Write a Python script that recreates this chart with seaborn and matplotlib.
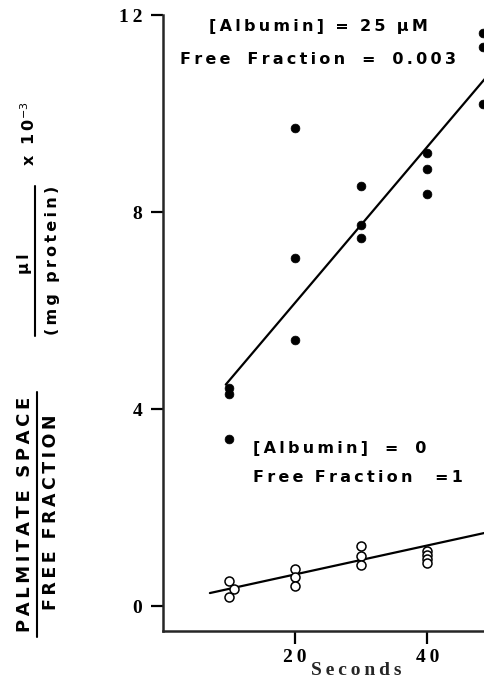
import numpy as np
import pandas as pd
import seaborn as sns
import matplotlib.pyplot as plt
from matplotlib.lines import Line2D

# albumin 25 uM (filled dots)
alb_x = [10, 10, 10, 20, 20, 20, 30, 30, 30, 40, 40, 40, 48.5, 48.5, 48.5]
alb_y = [4.30, 4.44, 3.39, 9.70, 7.06, 5.40, 8.54, 7.73, 7.48, 9.19, 8.88, 8.36, 11.64, 11.36, 10.20]
# no albumin (open circles)
free_x = [10, 10.8, 10, 20, 20, 20, 30, 30, 30, 40, 40, 40, 40]
free_y = [0.51, 0.36, 0.19, 0.75, 0.59, 0.41, 1.22, 1.03, 0.83, 1.12, 1.05, 0.97, 0.89]
# fitted lines (end points)
alb_fit_x = [9.5, 48.7]
alb_fit_y = [4.50, 10.70]
free_fit_x = [7.1, 48.7]
free_fit_y = [0.27, 1.49]

xticks = [20, 40]
yticks = [0, 4, 8, 12]

TS = "\u2009"  # thin space, used as letter spacing

def spaced(s, sep=TS):
    return sep.join(s)

def words(*ws, gap="  "):
    return gap.join(spaced(w) for w in ws)

sns.set_theme(style="ticks")
plt.rcParams['font.family'] = ['DejaVu Sans']

W, H = 484, 684
fig = plt.figure(figsize=(W / 100, H / 100), dpi=100)
ax = fig.add_axes([163 / W, 1 - 631 / H, 1 - 163 / W, (631 - 15) / H])

df_a = pd.DataFrame({"t": alb_x, "v": alb_y})
df_f = pd.DataFrame({"t": free_x, "v": free_y})
sns.scatterplot(data=df_a, x="t", y="v", ax=ax, color="black", s=40, edgecolor="black",
                linewidth=0.5, clip_on=False, zorder=3)
sns.scatterplot(data=df_f, x="t", y="v", ax=ax, facecolor="white", s=42, edgecolor="black",
                linewidth=1.1, clip_on=False, zorder=3)
sns.lineplot(x=alb_fit_x, y=alb_fit_y, ax=ax, color="black", lw=1.6)
sns.lineplot(x=free_fit_x, y=free_fit_y, ax=ax, color="black", lw=1.6)

ax.set_xlim(0, 48.6)
ax.set_ylim(-0.5, 12)
ax.spines['top'].set_visible(False)
ax.spines['right'].set_visible(False)
for sp in ['left', 'bottom']:
    ax.spines[sp].set_linewidth(1.8)
ax.set_xticks(xticks)
ax.set_yticks(yticks)
ax.set_xticklabels([spaced(str(v)) for v in xticks])
ax.set_yticklabels([spaced(str(v)) for v in yticks])
ax.tick_params(direction="out", length=9, width=1.6, colors="black")
ax.tick_params(axis="y", pad=6)
ax.tick_params(axis="x", pad=4)
for lab in ax.get_xticklabels() + ax.get_yticklabels():
    lab.set_family(['Liberation Serif', 'DejaVu Serif'])
    lab.set_fontweight('bold')
    lab.set_fontsize(14)
ax.set_xlabel(spaced("Seconds"), family=['Liberation Serif', 'DejaVu Serif'],
              fontweight='bold', fontsize=14)
ax.xaxis.set_label_coords(0.601, -0.05)
ax.set_ylabel("")

ann = dict(family=['DejaVu Sans'], fontweight='bold', fontsize=11.5, color="black")
fig.text(318 / W, 1 - 27 / H, words("[Albumin]", "=", "25", "µM"),
         ha="center", va="center", **ann)
fig.text(318 / W, 1 - 60 / H, words("Free", "Fraction", "=", "0.003", gap="   "),
         ha="center", va="center", **ann)
fig.text(253 / W, 1 - 448 / H, words("[Albumin]", "=", "0", gap="   "),
         ha="left", va="center", **ann)
fig.text(253 / W, 1 - 478 / H, words("Free", "Fraction") + "    " + spaced("=1"),
         ha="left", va="center", **ann)

# y axis label drawn as stacked fractions
lab = dict(family=['DejaVu Sans'], fontweight='bold', fontsize=11.5, rotation=90,
           ha="center", va="center", color="black")
fig.text(25 / W, 1 - 514 / H, words("PALMITATE", "SPACE"), **{**lab, "fontsize": 13})
fig.text(51 / W, 1 - 512 / H, words("FREE", "FRACTION"), **{**lab, "fontsize": 12.5})
fig.add_artist(Line2D([37 / W, 37 / W], [1 - 392 / H, 1 - 637 / H], color="black", lw=1.5))
fig.text(25 / W, 1 - 264 / H, words("µl"), **lab)
fig.text(53 / W, 1 - 260 / H, words("(mg", "protein)"), **lab)
fig.add_artist(Line2D([35 / W, 35 / W], [1 - 186 / H, 1 - 336 / H], color="black", lw=1.5))
fig.text(29 / W, 1 - 134 / H, "x  " + spaced("10") + r"$^{-3}$", **lab)

fig.savefig("out.png", dpi=100)
